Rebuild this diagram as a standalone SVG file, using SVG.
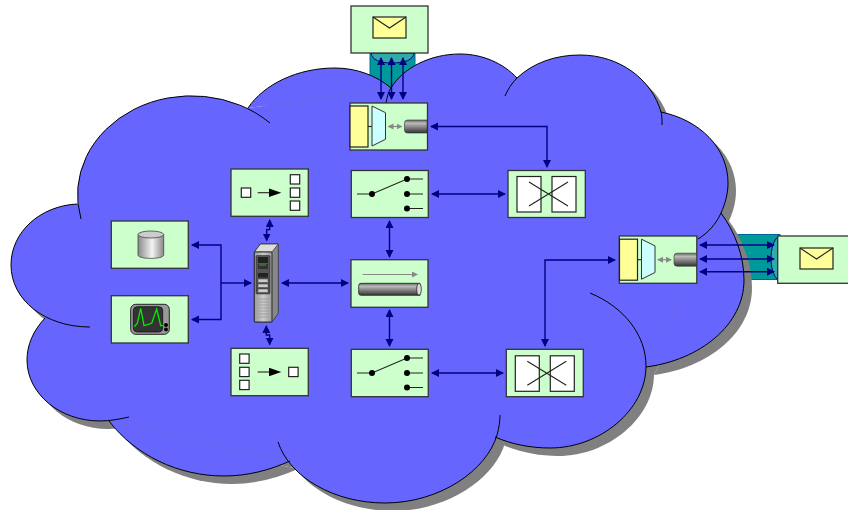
<svg xmlns="http://www.w3.org/2000/svg" width="848" height="510" viewBox="0 0 848 510">
<style>
.box{fill:#ccffcc;stroke:#333;stroke-width:1.3}
.ink{fill:none;stroke:#222;stroke-width:1.1}
.glow{fill:#000;stroke:none}
.wht{fill:#fff;stroke:#222;stroke-width:1.2}
.yel{fill:#ffff99;stroke:#222;stroke-width:1.2}
.cy{fill:#ccffff;stroke:#333;stroke-width:1}
.conn{fill:none;stroke:#000080;stroke-width:1.4}
.both{marker-start:url(#nav);marker-end:url(#nav)}
.one{marker-end:url(#nav)}
.grey{fill:none;stroke:#888;stroke-width:1.2}
.sm{fill:#888}
</style>
<defs>
<marker id="nav" markerUnits="userSpaceOnUse" markerWidth="9" markerHeight="9" refX="7" refY="4" orient="auto-start-reverse"><path d="M0,0 L8,4 L0,8 Z" fill="#000080"/></marker>
<marker id="gr" markerUnits="userSpaceOnUse" markerWidth="7" markerHeight="7" refX="5" refY="3" orient="auto-start-reverse"><path d="M0,0 L6,3 L0,6 Z" fill="#888"/></marker>
<linearGradient id="pipe" x1="0" y1="0" x2="0" y2="1"><stop offset="0" stop-color="#666"/><stop offset=".25" stop-color="#bbb"/><stop offset="1" stop-color="#333"/></linearGradient>
<linearGradient id="drum" x1="0" y1="0" x2="1" y2="0"><stop offset="0" stop-color="#888"/><stop offset=".55" stop-color="#f4f4f4"/><stop offset="1" stop-color="#888"/></linearGradient>
<linearGradient id="srv" x1="0" y1="0" x2="1" y2="0"><stop offset="0" stop-color="#999"/><stop offset=".5" stop-color="#ccc"/><stop offset="1" stop-color="#999"/></linearGradient>
<g id="lobes">
<path d="M81,219 A114,99 0 0 1 270,123"/>
<path d="M77,204 C40,206 11,232 11,265 C11,300 45,327 90,327"/>
<path d="M45,318 C33,331 27,345 27,360 C27,394 60,421 100,421 C110,421 120,419 129,417"/>
<path d="M109,421 C135,455 178,476 224,476 C248,476 270,470 290,461"/>
<path d="M278,442 C290,478 335,503 385,503 C440,503 487,470 497,435 C499,428 500,421 500,415"/>
<path d="M495,437 C511,444 530,448 550,448 C600,448 646,410 646,366 C646,335 624,307 590,293"/>
<path d="M646,367 C700,360 744,325 744,280 C744,256 735,232 721,213"/>
<path d="M698,239 C708,233 716,224 721,213 C725,204 728,194 728,183 C728,148 700,120 661,112"/>
<path d="M662,125 C662,120 662,115 661,112 C652,80 620,55 580,55 C555,55 533,63 517,78 C512,83 508,89 505,96"/>
<path d="M517,78 C503,63 482,54 460,54 C430,54 403,68 391,88 C388,92 387,98 386,103"/>
<path d="M391,88 C377,76 357,68 335,68 C298,68 264,84 248,108"/>
</g>
<path id="core" d="M77,204 L248,108 L391,88 L517,78 L661,112 L721,213 L646,367 L495,437 L385,503 L290,461 L109,421 L45,318 Z"/>
<g id="sw">
<path d="M6,24 H21 L56,9 H72 M56,24 H72 M56,38.5 H72" class="ink"/>
<circle cx="21" cy="24" r="3" class="glow"/><circle cx="56" cy="9" r="3" class="glow"/><circle cx="56" cy="24" r="3" class="glow"/><circle cx="56" cy="38.5" r="3" class="glow"/>
</g>
<g id="xc">
<rect x="10" y="7" width="24" height="35.5" class="wht"/><rect x="45" y="7" width="24" height="35.5" class="wht"/>
<path d="M22,12.5 L61,36.5 M22,36.5 L61,12.5" class="ink"/>
</g>
<g id="mx">
<rect x="0.5" y="3" width="18" height="41" class="yel"/>
<path d="M18.5,23.5 H23" class="ink"/>
<path d="M22.5,3 L36,9.7 V36.3 L22.5,43 Z" class="cy"/>
<path d="M39,23.5 H52" class="grey" marker-start="url(#gr)" marker-end="url(#gr)"/>
<path d="M58,17 H77.5 V30 H58 Q55,30 55,27 V20 Q55,17 58,17 Z" fill="url(#pipe)" stroke="#333" stroke-width=".6"/>
</g>
<g id="env">
<rect x="0" y="0" width="33" height="21" class="yel"/>
<path d="M0,0 L16.5,11 L33,0" class="ink"/>
</g>
</defs>

<g id="conduits">
<rect x="370" y="53" width="45" height="45" fill="#009999" stroke="#006699" stroke-width="1"/>
<path d="M371,53 C372,60 380,63 392,63 C405,63 413,60 414,53 Z" fill="#33aaaa" stroke="#000080" stroke-width="1"/>
<rect x="730" y="234.5" width="50" height="45" fill="#009999" stroke="#006699" stroke-width="1"/>
<path d="M779,236 C773,240 771,250 771,258 C771,267 773,276 779,281 Z" fill="#33aaaa" stroke="#000080" stroke-width="1"/>
</g>

<g id="cloud">
<g fill="#808080" transform="translate(8 8)"><use href="#lobes"/><use href="#core"/></g>
<g fill="#6666ff"><use href="#lobes"/><use href="#core"/></g>
<g fill="none" stroke="#000" stroke-width="1"><use href="#lobes"/></g>
</g>

<g id="connectors">
<path class="conn both" d="M381,58 V99"/>
<path class="conn both" d="M391.5,58 V99"/>
<path class="conn both" d="M403,58 V99"/>
<path class="conn both" d="M431,126.5 H547 V167"/>
<path class="conn both" d="M432,194 H505"/>
<path class="conn both" d="M389.5,221 V257"/>
<path class="conn both" d="M389.5,310 V346"/>
<path class="conn both" d="M432,373 H503"/>
<path class="conn both" d="M545,346 V260 H615"/>
<path class="conn both" d="M282,283 H348"/>
<path class="conn one" d="M221,283 H251"/>
<path class="conn both" d="M192,245 H221 V319.5 H192"/>
<path class="conn both" d="M269.7,220 V229.5 H266.7 V240.5"/>
<path class="conn both" d="M266.3,326 V335 H269.7 V344.5"/>
<path class="conn both" d="M700,245 H774"/>
<path class="conn both" d="M700,259 H774"/>
<path class="conn both" d="M700,271.7 H774"/>
</g>

<g id="mail-top">
<rect class="box" x="351" y="6" width="77" height="47"/>
<use href="#env" x="373" y="17"/>
</g>
<g id="mux-top">
<rect class="box" x="350" y="103" width="77.5" height="47"/>
<use href="#mx" x="349.5" y="103"/>
</g>
<g id="switch-top">
<rect class="box" x="351.3" y="170.5" width="77" height="47"/>
<use href="#sw" x="351" y="170"/>
</g>
<g id="xconnect-top">
<rect class="box" x="508" y="170.5" width="77.3" height="47"/>
<use href="#xc" x="507" y="169.5"/>
</g>
<g id="mux-right">
<rect class="box" x="619.3" y="236" width="77.5" height="47.3"/>
<use href="#mx" x="619" y="236.2"/>
</g>
<g id="mail-right">
<rect class="box" x="777.7" y="236" width="75" height="47.3"/>
<use href="#env" x="800" y="248"/>
</g>
<g id="pipe-node">
<rect class="box" x="351" y="259.7" width="77" height="47.6"/>
<path d="M362.7,274.5 H417" class="grey" stroke-width="1" marker-end="url(#gr)"/>
<path d="M361,283.3 H420 V295.3 H361 Q358.7,295.3 358.7,293 V285.6 Q358.7,283.3 361,283.3 Z" fill="url(#pipe)" stroke="#222" stroke-width=".8"/>
<ellipse cx="419" cy="289.3" rx="2.3" ry="6" fill="#ddd" stroke="#222" stroke-width=".8"/>
</g>
<g id="switch-bottom">
<rect class="box" x="351.3" y="349.3" width="77" height="47.4"/>
<use href="#sw" x="351" y="349"/>
</g>
<g id="xconnect-bottom">
<rect class="box" x="506.3" y="349.3" width="77" height="47.4"/>
<use href="#xc" x="505.3" y="348.8"/>
</g>
<g id="router-top">
<rect class="box" x="231" y="169" width="77.3" height="47.3"/>
<rect class="wht" x="241.3" y="188" width="9.4" height="9.3"/>
<rect class="wht" x="290.3" y="174.7" width="9.4" height="9.3"/>
<rect class="wht" x="290.3" y="188" width="9.4" height="9.3"/>
<rect class="wht" x="290.3" y="201" width="9.4" height="9.3"/>
<path d="M257.7,192.7 H270" class="ink"/><path d="M269,188.5 L281.3,192.7 L269,197 Z" class="glow"/>
</g>
<g id="router-bottom">
<rect class="box" x="231" y="348.3" width="77.3" height="47.4"/>
<rect class="wht" x="239.7" y="354" width="9.4" height="9.3"/>
<rect class="wht" x="239.7" y="367.3" width="9.4" height="9.3"/>
<rect class="wht" x="239.7" y="380.3" width="9.4" height="9.3"/>
<rect class="wht" x="288.7" y="367.3" width="9.4" height="9.3"/>
<path d="M257.7,372 H270" class="ink"/><path d="M269,367.8 L281.3,372 L269,376.2 Z" class="glow"/>
</g>
<g id="database">
<rect class="box" x="111.3" y="221" width="77" height="47.3"/>
<path d="M138,234.5 V255 C138,259.5 163.7,259.5 163.7,255 V234.5 Z" fill="url(#drum)" stroke="#444" stroke-width=".8"/>
<ellipse cx="150.8" cy="234.5" rx="12.8" ry="3.5" fill="#ccc" stroke="#444" stroke-width=".8"/>
</g>
<g id="monitor">
<rect class="box" x="111.3" y="295.7" width="77" height="47.3"/>
<rect x="130.7" y="304.3" width="38.6" height="30" rx="5" fill="#999" stroke="#222" stroke-width="1"/>
<rect x="133.3" y="306.7" width="29.4" height="25.3" rx="4" fill="#333" stroke="#111" stroke-width=".8"/>
<path d="M134.3,326.7 L137.3,323.3 L140.7,308.3 L144,325.7 L151.7,323.3 L156.7,309 L160.7,325.7 L163.3,325.7" fill="none" stroke="#00ee00" stroke-width="1.3"/>
<circle cx="166" cy="325" r="2" class="glow"/><circle cx="166" cy="329.5" r="2" class="glow"/>
</g>
<g id="server">
<path d="M254.3,252 L260.5,244 H278.3 V313.5 L272,322 H254.3 Z" fill="#888" stroke="#333" stroke-width=".8"/>
<path d="M254.3,252 L260.5,244 H278.3 L272,252 Z" fill="#ddd" stroke="#333" stroke-width=".8"/>
<rect x="254.3" y="252" width="17.7" height="70" rx="1" fill="url(#srv)" stroke="#222" stroke-width=".9"/>
<rect x="256" y="255.5" width="14" height="38.5" rx="1" fill="#555" stroke="#222" stroke-width=".5"/>
<rect x="258" y="257" width="10" height="6" fill="#222"/><rect x="258" y="264" width="10" height="5" fill="#333"/><path d="M259,265 H266" stroke="#2c2" stroke-width=".8"/>
<rect x="258" y="273" width="10" height="4.5" fill="#222"/>
<rect x="258" y="279" width="10" height="3.5" fill="#ccc" stroke="#222" stroke-width=".4"/>
<rect x="258" y="284" width="10" height="3.5" fill="#ccc" stroke="#222" stroke-width=".4"/>
<rect x="258" y="289" width="10" height="3.5" fill="#ccc" stroke="#222" stroke-width=".4"/>
<path d="M257,299 H269 M257,302 H269 M257,305 H269 M257,308 H269 M257,311 H269 M257,314 H269 M257,317 H269" stroke="#999" stroke-width=".8"/>
</g>
</svg>
